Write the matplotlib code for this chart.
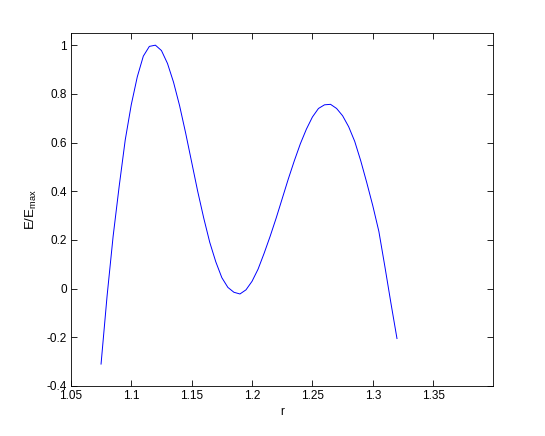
import matplotlib
matplotlib.use("Agg")
import matplotlib.pyplot as plt

# curve values (r vs E/Emax)
r_vals = [1.075, 1.080, 1.085, 1.090, 1.095, 1.100, 1.105, 1.110, 1.115, 1.120,
          1.125, 1.130, 1.135, 1.140, 1.145, 1.150, 1.155, 1.160, 1.165, 1.170,
          1.175, 1.180, 1.185, 1.190, 1.195, 1.200, 1.205, 1.210, 1.215, 1.220,
          1.225, 1.230, 1.235, 1.240, 1.245, 1.250, 1.255, 1.260, 1.265, 1.270,
          1.275, 1.280, 1.285, 1.290, 1.295, 1.300, 1.305, 1.310, 1.315, 1.320]
e_vals = [-0.31, -0.03, 0.215, 0.42, 0.61, 0.755, 0.87, 0.955, 0.995, 1.0,
          0.978, 0.925, 0.848, 0.752, 0.64, 0.52, 0.40, 0.29, 0.19, 0.11,
          0.045, 0.005, -0.015, -0.022, -0.005, 0.03, 0.08, 0.145, 0.215, 0.29,
          0.37, 0.45, 0.525, 0.595, 0.655, 0.705, 0.74, 0.755, 0.757, 0.74,
          0.71, 0.665, 0.605, 0.525, 0.435, 0.34, 0.235, 0.09, -0.06, -0.205]

x_ticks = [1.05, 1.1, 1.15, 1.2, 1.25, 1.3, 1.35]
x_labels = ["1.05", "1.1", "1.15", "1.2", "1.25", "1.3", "1.35"]
y_ticks = [-0.4, -0.2, 0, 0.2, 0.4, 0.6, 0.8, 1]
y_labels = ["-0.4", "-0.2", "0", "0.2", "0.4", "0.6", "0.8", "1"]

plt.rcParams["font.family"] = ["Liberation Sans", "DejaVu Sans"]
plt.rcParams["mathtext.default"] = "regular"
plt.rcParams["font.size"] = 8.5

fig = plt.figure(figsize=(5.45, 4.36), dpi=100)
ax = fig.add_axes([0.130, 0.1147, 0.7746, 0.8096])

ax.plot(r_vals, e_vals, color="#0000ff", linewidth=0.7)

ax.set_xlim(1.05, 1.3995)
ax.set_ylim(-0.4, 1.05)
ax.set_xticks(x_ticks)
ax.set_xticklabels(x_labels)
ax.set_yticks(y_ticks)
ax.set_yticklabels(y_labels)

ax.tick_params(direction="in", length=4, width=0.6, top=True, right=True,
               labelsize=8.5, pad=3)
for s in ax.spines.values():
    s.set_linewidth(0.6)

ax.set_xlabel("r", fontsize=8.5, labelpad=3)
ax.set_ylabel(r"E/E$_{max}$", fontsize=9.5, labelpad=5)

fig.savefig("out.png", dpi=100)
